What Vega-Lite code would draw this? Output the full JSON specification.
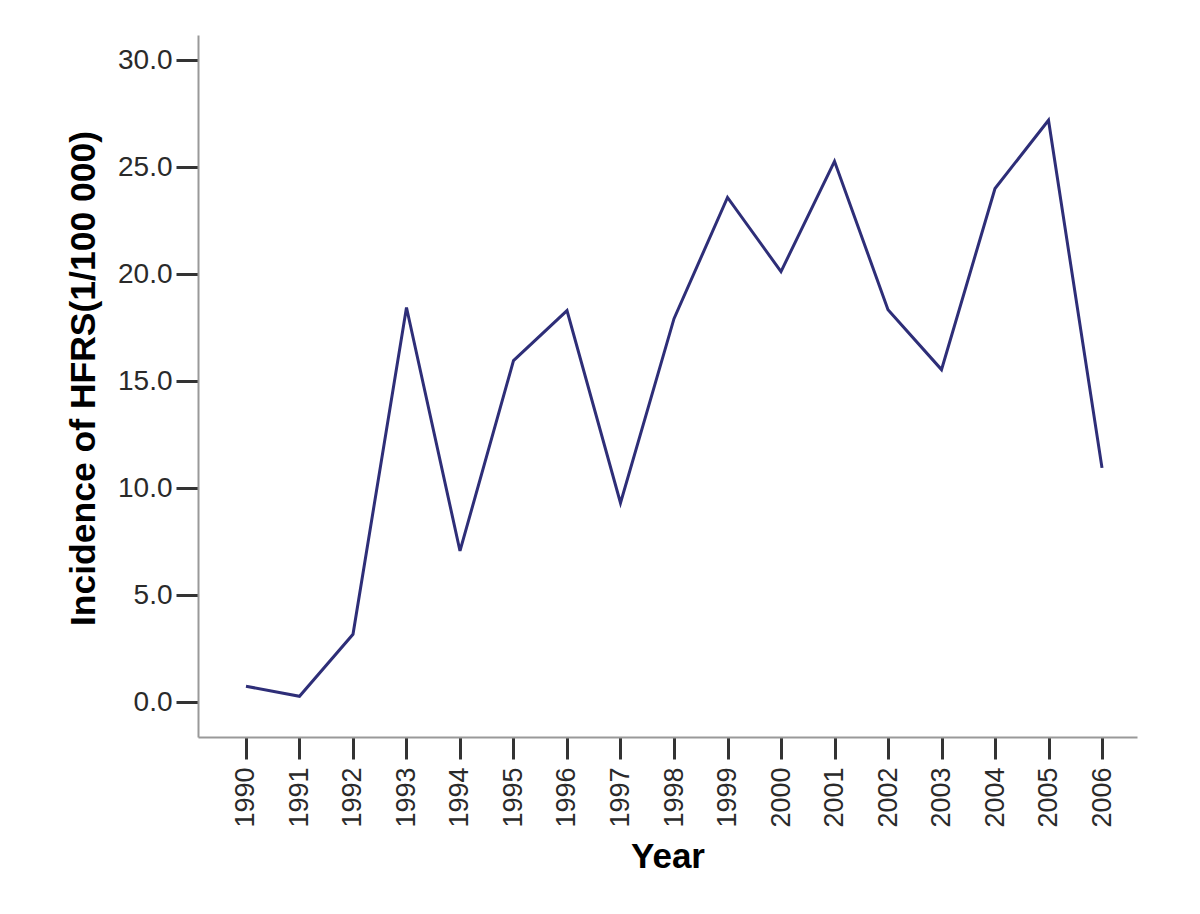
{
  "$schema": "https://vega.github.io/schema/vega-lite/v6.json",
  "width": 939,
  "height": 702,
  "autosize": {"type": "none"},
  "padding": {"left": 198, "top": 35, "right": 63, "bottom": 177},
  "background": "white",
  "config": {"view": {"stroke": null}, "font": "Liberation Sans"},
  "data": {
    "values": [
      {"year": 1990, "incidence": 0.75},
      {"year": 1991, "incidence": 0.28},
      {"year": 1992, "incidence": 3.18},
      {"year": 1993, "incidence": 18.44},
      {"year": 1994, "incidence": 7.07},
      {"year": 1995, "incidence": 15.96},
      {"year": 1996, "incidence": 18.3},
      {"year": 1997, "incidence": 9.31},
      {"year": 1998, "incidence": 17.92},
      {"year": 1999, "incidence": 23.58},
      {"year": 2000, "incidence": 20.12},
      {"year": 2001, "incidence": 25.27},
      {"year": 2002, "incidence": 18.34},
      {"year": 2003, "incidence": 15.54},
      {"year": 2004, "incidence": 24.0},
      {"year": 2005, "incidence": 27.19},
      {"year": 2006, "incidence": 10.95}
    ]
  },
  "mark": {"type": "line", "color": "#2e2e78", "strokeWidth": 3},
  "encoding": {
    "x": {
      "field": "year",
      "type": "quantitative",
      "title": "Year",
      "scale": {"domain": [1989.103, 2006.654], "nice": false, "zero": false},
      "axis": {
        "values": [1990,1991,1992,1993,1994,1995,1996,1997,1998,1999,2000,2001,2002,2003,2004,2005,2006],
        "format": "d",
        "grid": false,
        "labelAngle": -90,
        "labelAlign": "right",
        "labelBaseline": "middle",
        "labelFontSize": 27,
        "labelColor": "#2a2a2a",
        "labelPadding": 8,
        "labelFlush": false,
        "labelOverlap": false,
        "tickSize": 22,
        "tickWidth": 3,
        "tickColor": "#333333",
        "domainColor": "#999999",
        "domainWidth": 2,
        "titleFontSize": 35,
        "titleFontWeight": "bold",
        "titleColor": "#000000",
        "titlePadding": 12
      }
    },
    "y": {
      "field": "incidence",
      "type": "quantitative",
      "title": "Incidence of HFRS(1/100 000)",
      "scale": {"domain": [-1.62, 31.17], "nice": false, "zero": false},
      "axis": {
        "values": [0, 5, 10, 15, 20, 25, 30],
        "format": ".1f",
        "grid": false,
        "labelFontSize": 28,
        "labelColor": "#2a2a2a",
        "labelPadding": 4,
        "labelFlush": false,
        "labelOverlap": false,
        "tickSize": 22,
        "tickWidth": 3,
        "tickColor": "#333333",
        "domainColor": "#999999",
        "domainWidth": 2,
        "titleFontSize": 35.5,
        "titleFontWeight": "bold",
        "titleColor": "#000000",
        "titlePadding": 16,
        "titleY": 343
      }
    }
  }
}
